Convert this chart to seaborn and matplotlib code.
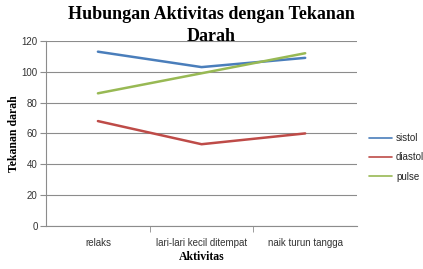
import matplotlib
matplotlib.use("Agg")
import matplotlib.pyplot as plt
import seaborn as sns
import pandas as pd

categories = ["relaks", "lari-lari kecil ditempat", "naik turun tangga"]
sistol = [113, 103, 109]
diastol = [68, 53, 60]
pulse = [86, 99, 112]
series_names = ["sistol", "diastol", "pulse"]
colors = ["#4A7EBB", "#BE4B48", "#98B954"]

rows = []
for name, vals in zip(series_names, [sistol, diastol, pulse]):
    for i, v in enumerate(vals):
        rows.append({"Aktivitas": i, "Tekanan darah": v, "series": name})
df = pd.DataFrame(rows)

sns.set_style("white")
fig = plt.figure(figsize=(4.23, 2.69), dpi=100)
ax = fig.add_axes([0.109, 0.160, 0.735, 0.688])

sns.lineplot(data=df, x="Aktivitas", y="Tekanan darah", hue="series",
             palette=colors, hue_order=series_names, linewidth=1.8, ax=ax,
             legend=True)

ax.set_xlim(-0.5, 2.5)
ax.set_ylim(0, 120)
ax.set_yticks(range(0, 121, 20))
ax.yaxis.grid(True, color="#8C8C8C", linewidth=0.8)
ax.set_axisbelow(True)
ax.set_xticks([0, 1, 2])
ax.set_xticklabels(categories)
ax.set_xticks([0.5, 1.5], minor=True)
ax.tick_params(axis="x", which="major", length=0, labelsize=7, pad=9, colors="#333333")
ax.tick_params(axis="x", which="minor", length=4, color="#8C8C8C", bottom=True)
ax.tick_params(axis="y", length=4, color="#8C8C8C", labelsize=7, pad=2, left=True, colors="#333333")
for lab in ax.get_xticklabels() + ax.get_yticklabels():
    lab.set_fontfamily("Liberation Sans")
    lab.set_color("#333333")
for s in ["top", "right"]:
    ax.spines[s].set_visible(False)
for s in ["left", "bottom"]:
    ax.spines[s].set_color("#8C8C8C")
    ax.spines[s].set_linewidth(0.8)

ax.set_xlabel("Aktivitas", fontfamily="Liberation Serif", fontweight="bold", fontsize=8.5,
              labelpad=2, color="black")
ax.set_ylabel("Tekanan darah", fontfamily="Liberation Serif", fontweight="bold", fontsize=8.5,
              labelpad=1, color="black")

fig.text(0.50, 0.978, "Hubungan Aktivitas dengan Tekanan\nDarah", ha="center", va="top",
         fontfamily="Liberation Serif", fontweight="bold", fontsize=13, linespacing=1.4,
         color="black")

leg = ax.legend(loc="center left", bbox_to_anchor=(1.01, 0.37), frameon=False,
                prop={"family": "Liberation Sans", "size": 7}, handlelength=2.4,
                labelspacing=0.95, handletextpad=0.4)
for line in leg.get_lines():
    line.set_linewidth(1.2)

fig.savefig("out.png", dpi=100)
